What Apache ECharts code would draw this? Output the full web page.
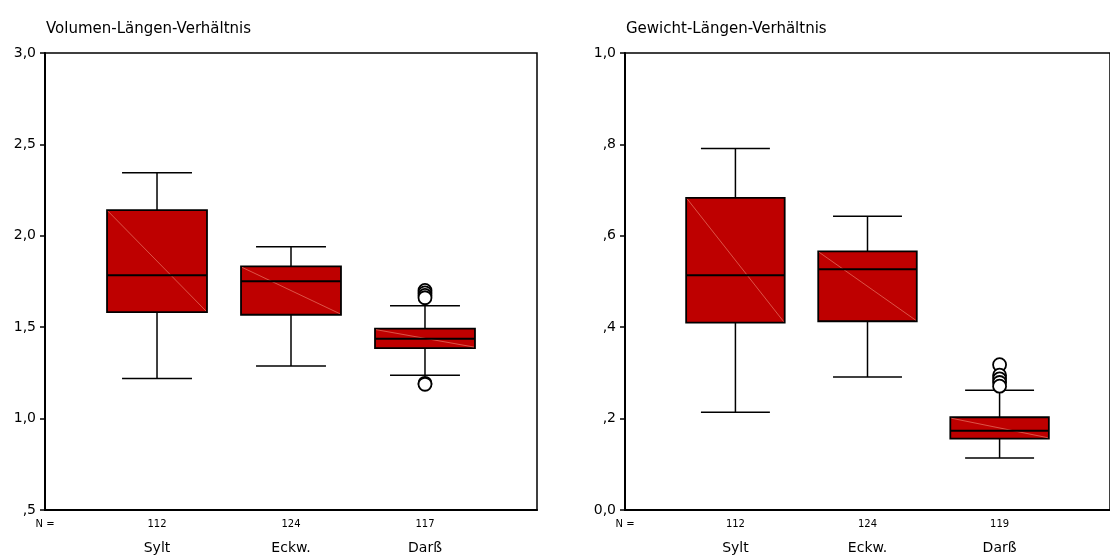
<!DOCTYPE html>
<html>
<head>
<meta charset="utf-8">
<script src="https://cdn.jsdelivr.net/npm/echarts@6/dist/echarts.min.js"></script>
<style>
  html, body { margin: 0; padding: 0; background: #fff; }
  #chart { width: 1110px; height: 556px; }
</style>
</head>
<body>
<div id="chart"></div>
<script>
// Groups shown on both panels
const categories = ['Sylt', 'Eckw.', 'Darß'];

// Volumen-Längen-Verhältnis: [lower whisker, Q1, median, Q3, upper whisker]
const volLow    = [1.220, 1.288, 1.237];
const volQ1     = [1.583, 1.568, 1.386];
const volMedian = [1.784, 1.751, 1.437];
const volQ3     = [2.140, 1.833, 1.492];
const volHigh   = [2.345, 1.940, 1.618];
const volN      = [112, 124, 117];
// outliers as [group index, value]
const volOutliers = [[2, 1.701], [2, 1.688], [2, 1.674], [2, 1.661], [2, 1.193], [2, 1.188]];

// Gewicht-Längen-Verhältnis
const gewLow    = [0.214, 0.291, 0.114];
const gewQ1     = [0.410, 0.413, 0.156];
const gewMedian = [0.5135, 0.527, 0.1736];
const gewQ3     = [0.683, 0.566, 0.203];
const gewHigh   = [0.791, 0.643, 0.262];
const gewN      = [112, 124, 119];
const gewOutliers = [[2, 0.318], [2, 0.295], [2, 0.287], [2, 0.279], [2, 0.271]];

// y axis ranges / ticks
const volY = { min: 0.5, max: 3.0, interval: 0.5 };
const gewY = { min: 0.0, max: 1.0, interval: 0.2 };

// horizontal layout of the group slots (in group units)
const X_MIN = -0.836, X_MAX = 2.836;
const BOX_W = 0.746, CAP_W = 0.522;

const FONT = 'DejaVu Sans';
const BOX_FILL = '#BE0000';

function fmtTick(v) {
  let s = v.toFixed(1).replace('.', ',');
  if (v > 0 && v < 1) s = s.substring(1);
  return s;
}

function boxData(lo, q1, md, q3, hi) {
  return lo.map((_, i) => [i, lo[i], q1[i], md[i], q3[i], hi[i]]);
}

function renderBox(params, api) {
  const x = api.value(0);
  const lo = api.coord([x, api.value(1)]);
  const q1 = api.coord([x, api.value(2)]);
  const md = api.coord([x, api.value(3)]);
  const q3 = api.coord([x, api.value(4)]);
  const hi = api.coord([x, api.value(5)]);
  const bw = api.size([BOX_W, 0])[0];
  const cw = api.size([CAP_W, 0])[0];
  const cx = lo[0];
  const line = { stroke: '#000', lineWidth: 1.5 };
  return {
    type: 'group',
    children: [
      { type: 'line', shape: { x1: cx, y1: lo[1], x2: cx, y2: q1[1] }, style: line },
      { type: 'line', shape: { x1: cx, y1: q3[1], x2: cx, y2: hi[1] }, style: line },
      { type: 'line', shape: { x1: cx - cw / 2, y1: lo[1], x2: cx + cw / 2, y2: lo[1] }, style: line },
      { type: 'line', shape: { x1: cx - cw / 2, y1: hi[1], x2: cx + cw / 2, y2: hi[1] }, style: line },
      { type: 'rect', shape: { x: cx - bw / 2, y: q3[1], width: bw, height: q1[1] - q3[1] },
        style: { fill: BOX_FILL, stroke: '#000', lineWidth: 1.8 } },
      { type: 'line', shape: { x1: cx - bw / 2 + 1, y1: q3[1] + 1, x2: cx + bw / 2 - 1, y2: q1[1] - 1 },
        style: { stroke: 'rgba(240,140,120,0.85)', lineWidth: 0.7 } },
      { type: 'line', shape: { x1: cx - bw / 2, y1: md[1], x2: cx + bw / 2, y2: md[1] },
        style: { stroke: '#000', lineWidth: 2 } }
    ]
  };
}

function xAxisFor(gridIndex, counts) {
  return {
    type: 'value', gridIndex, min: X_MIN, max: X_MAX,
    axisLine: { show: true, onZero: false, lineStyle: { color: '#000', width: 2 } },
    axisTick: { show: false },
    splitLine: { show: false },
    axisLabel: {
      customValues: [X_MIN, 0, 1, 2],
      margin: 8,
      verticalAlign: 'top',
      formatter: function (v) {
        if (v < -0.5) return '{n|N =}';
        const i = Math.round(v);
        return '{n|' + counts[i] + '}\n{c|' + categories[i] + '}';
      },
      rich: {
        n: { fontFamily: FONT, fontSize: 10, lineHeight: 12, color: '#000' },
        c: { fontFamily: FONT, fontSize: 14, lineHeight: 36, color: '#000' }
      }
    }
  };
}

function yAxisFor(gridIndex, r) {
  return {
    type: 'value', gridIndex, min: r.min, max: r.max, interval: r.interval,
    axisLine: { show: true, onZero: false, lineStyle: { color: '#000', width: 2 } },
    axisTick: { show: true, length: 5, lineStyle: { color: '#000', width: 1.5 } },
    splitLine: { show: false },
    axisLabel: { formatter: fmtTick, margin: 9, fontFamily: FONT, fontSize: 14, color: '#000' }
  };
}

function outlierSeries(idx, data) {
  return {
    type: 'scatter', xAxisIndex: idx, yAxisIndex: idx, data: data,
    symbol: 'circle', symbolSize: 13, z: 5,
    itemStyle: { color: '#fff', borderColor: '#000', borderWidth: 1.8, opacity: 1 }
  };
}

const chart = echarts.init(document.getElementById('chart'), null, { renderer: 'canvas' });
chart.setOption({
  animation: false,
  backgroundColor: '#fff',
  title: [
    { text: 'Volumen-Längen-Verhältnis', left: 41, top: 17,
      textStyle: { fontFamily: FONT, fontSize: 15, fontWeight: 'normal', color: '#000' } },
    { text: 'Gewicht-Längen-Verhältnis', left: 621, top: 17,
      textStyle: { fontFamily: FONT, fontSize: 15, fontWeight: 'normal', color: '#000' } }
  ],
  grid: [
    { left: 45, top: 53, width: 492, height: 457, show: true, borderColor: '#000', borderWidth: 1.5 },
    { left: 625, top: 53, width: 492, height: 457, show: true, borderColor: '#000', borderWidth: 1.5 }
  ],
  xAxis: [xAxisFor(0, volN), xAxisFor(1, gewN)],
  yAxis: [yAxisFor(0, volY), yAxisFor(1, gewY)],
  series: [
    { type: 'custom', xAxisIndex: 0, yAxisIndex: 0, renderItem: renderBox,
      encode: { x: 0, y: [1, 2, 3, 4, 5] },
      data: boxData(volLow, volQ1, volMedian, volQ3, volHigh) },
    outlierSeries(0, volOutliers),
    { type: 'custom', xAxisIndex: 1, yAxisIndex: 1, renderItem: renderBox,
      encode: { x: 0, y: [1, 2, 3, 4, 5] },
      data: boxData(gewLow, gewQ1, gewMedian, gewQ3, gewHigh) },
    outlierSeries(1, gewOutliers)
  ]
});
</script>
</body>
</html>
